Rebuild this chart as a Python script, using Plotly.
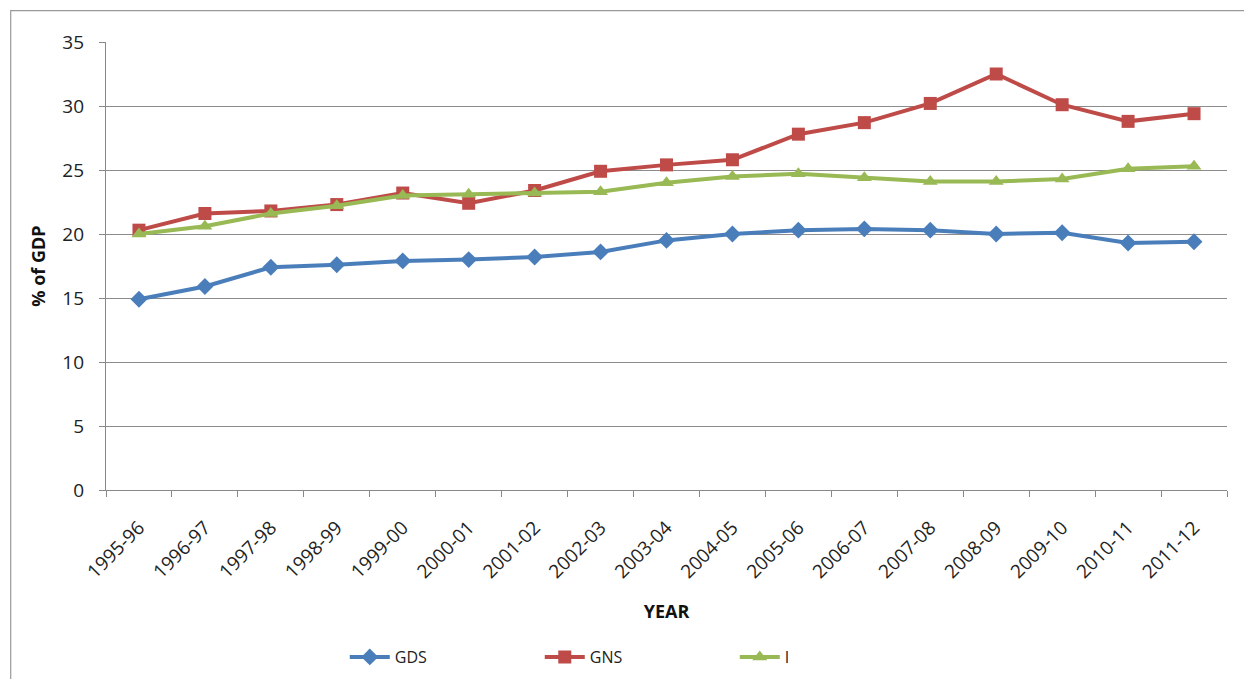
import plotly.graph_objects as go

years = ["1995-96", "1996-97", "1997-98", "1998-99", "1999-00", "2000-01",
         "2001-02", "2002-03", "2003-04", "2004-05", "2005-06", "2006-07",
         "2007-08", "2008-09", "2009-10", "2010-11", "2011-12"]

gds = [14.9, 15.9, 17.4, 17.6, 17.9, 18.0, 18.2, 18.6, 19.5, 20.0, 20.3,
       20.4, 20.3, 20.0, 20.1, 19.3, 19.4]
gns = [20.3, 21.6, 21.8, 22.3, 23.2, 22.4, 23.4, 24.9, 25.4, 25.8, 27.8,
       28.7, 30.2, 32.5, 30.1, 28.8, 29.4]
inv = [20.0, 20.6, 21.6, 22.2, 23.0, 23.1, 23.2, 23.3, 24.0, 24.5, 24.7,
       24.4, 24.1, 24.1, 24.3, 25.1, 25.3]

series = [
    ("GDS", gds, "#4A7EBB", "diamond", 13),
    ("GNS", gns, "#BE4B48", "square", 13),
    ("I", inv, "#98B954", "triangle-up", 13),
]

font_family = "Open Sans, Liberation Sans, sans-serif"

fig = go.Figure()
for name, vals, color, symbol, size in series:
    fig.add_trace(go.Scatter(
        x=years, y=vals, name=name, mode="lines+markers",
        line=dict(color=color, width=4),
        marker=dict(symbol=symbol, size=size, color=color),
    ))

fig.update_layout(
    width=1244, height=679,
    margin=dict(l=106, r=17, t=42, b=189),
    paper_bgcolor="white", plot_bgcolor="white",
    font=dict(family=font_family, size=16, color="#222"),
    showlegend=True,
    legend=dict(
        orientation="h", x=0.213, xanchor="left",
        yref="container", y=22 / 679, yanchor="middle",
        font=dict(size=16, color="#222"),
        entrywidth=140, itemwidth=40,
    ),
    shapes=[dict(type="rect", xref="paper", yref="paper",
                 x0=-0.085, x1=1.03, y0=-0.5, y1=1.07,
                 line=dict(color="#999", width=1.2))],
)

fig.update_xaxes(
    type="category", range=[-0.5, len(years) - 0.5],
    tickangle=-45, showgrid=False, automargin=False,
    showline=True, linecolor="#888", linewidth=1.2,
    ticks="outside", tickson="boundaries", ticklen=6, tickcolor="#888",
    ticklabelstandoff=18,
    tickfont=dict(size=19, color="#222"),
    title=dict(text="<b>YEAR</b>", font=dict(size=18, color="#111"), standoff=22),
)
fig.update_yaxes(
    range=[0, 35], dtick=5, showgrid=True, gridcolor="#8c8c8c", gridwidth=1.2,
    showline=True, linecolor="#888", linewidth=1.2, automargin=False,
    ticks="outside", ticklen=6, tickcolor="#888", zeroline=False,
    ticklabelstandoff=11,
    tickfont=dict(size=19, color="#222"),
    title=dict(text="<b>% of GDP</b>", font=dict(size=18, color="#111"), standoff=12),
)

fig.write_html("out.html")
